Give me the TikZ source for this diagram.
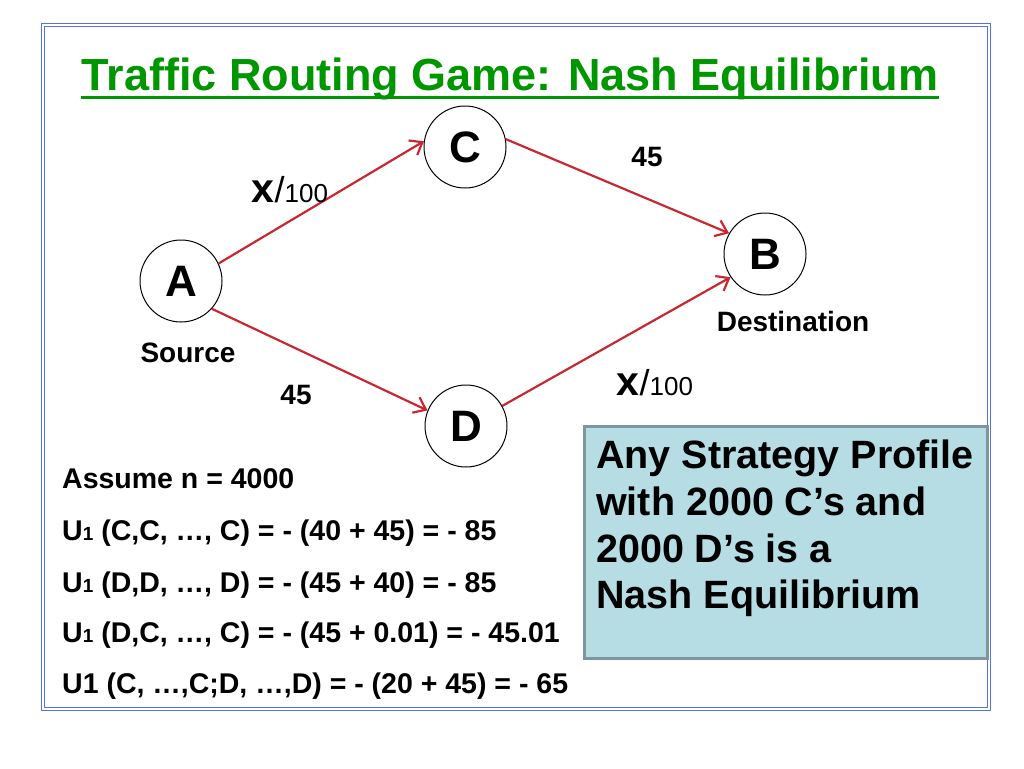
\documentclass[tikz,border=0pt]{standalone}
\usepackage{fontspec}
\setmainfont{Liberation Sans}
\usetikzlibrary{arrows.meta}
\definecolor{titlegreen}{RGB}{0,150,0}
\definecolor{frameblue}{RGB}{85,115,230}
\definecolor{edgered}{RGB}{200,40,50}
\definecolor{notefill}{RGB}{183,221,228}
\definecolor{noteline}{RGB}{125,150,160}
\newcommand{\flowcost}{{\fontsize{41}{41}\selectfont\bfseries x}{\fontsize{36}{36}\selectfont\mdseries /}{\fontsize{26}{26}\selectfont\mdseries 100}}
\newcommand{\Uone}{U{\fontsize{19}{19}\selectfont 1}}

\begin{document}
\begin{tikzpicture}[x=1pt,y=-1pt,
  town/.style={draw,circle,line width=1pt,minimum size=82pt,inner sep=0pt,font=\fontsize{44}{44}\selectfont\bfseries},
  road/.style={draw=edgered,line width=2.2pt,-{Straight Barb[length=11pt,width=17pt]}},
  lbl/.style={font=\fontsize{28}{28}\selectfont\bfseries},
  calcline/.style={anchor=base west,inner sep=0pt,font=\fontsize{28.5}{28.5}\selectfont\bfseries},
  noteline/.style={anchor=base west,inner sep=0pt,font=\fontsize{39.5}{39.5}\selectfont\bfseries}]
\useasboundingbox (0,0) rectangle (1024,768);
% frame
\draw[frameblue,line width=1pt,double,double distance=2pt] (42.5,25.5) rectangle (988.5,708.5);
% title
\node[anchor=base,inner sep=0pt,text=titlegreen,font=\fontsize{45}{45}\selectfont\bfseries] (title) at (510,90) {Traffic Routing Game: Nash Equilibrium};
\draw[titlegreen,line width=3pt] ([yshift=-7pt]title.base west) -- ([yshift=-7pt]title.base east);
% network
\node[town] (A) at (181,281) {A};
\node[town] (C) at (465,147) {C};
\node[town] (D) at (466,426) {D};
\node[town] (B) at (765,254) {B};
\draw[road] (A.25) -- (C.172);
\draw[road] (C.11) -- (B.150);
\draw[road] (A.-42) -- (D.158);
\draw[road] (D.29) -- (B.214);
\node (costAC) at (290,190) {\flowcost};
\node[lbl] (costCB) at (647,157) {45};
\node[lbl] (costAD) at (296,395) {45};
\node (costDB) at (655,383) {\flowcost};
\node[lbl] (source) at (188,353) {Source};
\node[lbl] (dest) at (793,321) {Destination};
% payoffs
\node[calcline] (n) at (62,488) {Assume n = 4000};
\node[calcline] (u1) at (62,540) {\Uone{} (C,C, …, C) = - (40 + 45) = - 85};
\node[calcline] (u2) at (62,592) {\Uone{} (D,D, …, D) = - (45 + 40) = - 85};
\node[calcline] (u3) at (62,642) {\Uone{} (D,C, …, C) = - (45 + 0.01) = - 45.01};
\node[calcline] (u4) at (62,693) {U1 (C, …,C;D, …,D) = - (20 + 45) = - 65};
% note
\node[draw=noteline,fill=notefill,line width=2.5pt,anchor=north west,minimum width=403pt,minimum height=232pt] (note) at (583,425) {};
\node[noteline] (note1) at (596,468) {Any Strategy Profile};
\node[noteline] (note2) at (596,515) {with 2000 C’s and};
\node[noteline] (note3) at (596,562) {2000 D’s is a};
\node[noteline] (note4) at (596,608) {Nash Equilibrium};
\end{tikzpicture}
\end{document}
